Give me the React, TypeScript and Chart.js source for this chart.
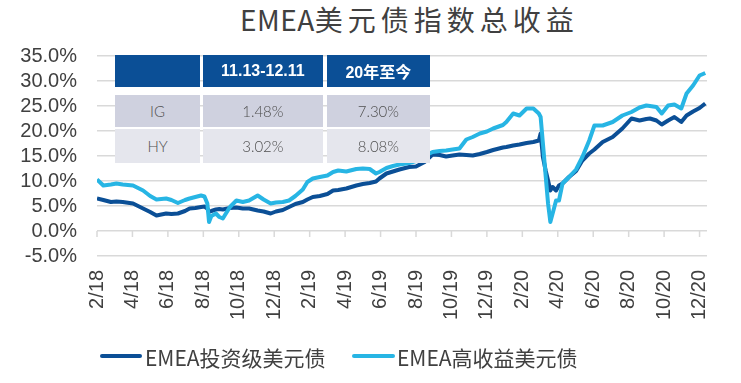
import React, { useEffect, useRef } from "react";
import { Chart, registerables } from "chart.js";

Chart.register(...registerables);

const titleLatin = "EMEA";
const titleCjk = "美元债指数总收益";

const dates = [
  "2018-02-01", "2018-02-11", "2018-02-23", "2018-03-04", "2018-03-15", "2018-04-02", "2018-04-19",
  "2018-05-01", "2018-05-12", "2018-05-29", "2018-06-07", "2018-06-18", "2018-06-30", "2018-07-08",
  "2018-07-18", "2018-07-28", "2018-08-03", "2018-08-08", "2018-08-11", "2018-08-15", "2018-08-23",
  "2018-08-29", "2018-09-04", "2018-09-16", "2018-09-27", "2018-10-08", "2018-10-19", "2018-11-03",
  "2018-11-13", "2018-11-25", "2018-12-04", "2018-12-16", "2018-12-27", "2019-01-07", "2019-01-20",
  "2019-01-28", "2019-02-06", "2019-02-17", "2019-03-01", "2019-03-11", "2019-03-20", "2019-04-03",
  "2019-04-20", "2019-05-01", "2019-05-13", "2019-05-24", "2019-05-30", "2019-06-11", "2019-06-22",
  "2019-07-03", "2019-07-20", "2019-08-01", "2019-08-16", "2019-08-30", "2019-09-11", "2019-09-22",
  "2019-10-03", "2019-10-15", "2019-10-27", "2019-11-07", "2019-11-19", "2019-12-01", "2019-12-12",
  "2019-12-29", "2020-01-04", "2020-01-16", "2020-01-27", "2020-02-08", "2020-02-19", "2020-02-28",
  "2020-03-02", "2020-03-06", "2020-03-11", "2020-03-15", "2020-03-19", "2020-03-23", "2020-03-29",
  "2020-04-03", "2020-04-09", "2020-04-20", "2020-05-02", "2020-05-13", "2020-05-25", "2020-06-03",
  "2020-06-17", "2020-07-04", "2020-07-21", "2020-08-06", "2020-08-20", "2020-09-01", "2020-09-07",
  "2020-09-18", "2020-09-27", "2020-10-08", "2020-10-19", "2020-10-31", "2020-11-09", "2020-11-20",
  "2020-12-01", "2020-12-11",
];

const igValues = [
  6.5, 6.2, 5.8, 5.9, 5.8, 5.5, 4.5,
  3.8, 3.1, 3.5, 3.4, 3.5, 4.0, 4.5,
  4.6, 4.8, 4.9, 4.5, 3.8, 4.0, 4.3,
  4.4, 4.3, 4.6, 4.7, 4.5, 4.5, 4.1,
  3.9, 3.5, 3.9, 4.2, 4.8, 5.4, 5.8,
  6.3, 6.8, 7.0, 7.4, 8.1, 8.2, 8.5,
  9.1, 9.4, 9.6, 9.9, 10.5, 11.5, 11.9,
  12.3, 12.8, 12.9, 13.8, 15.3, 15.2, 14.9,
  15.1, 15.3, 15.2, 15.1, 15.4, 15.8, 16.2,
  16.7, 16.8, 17.1, 17.3, 17.6, 17.8, 18.1,
  19.5, 14.8, 12.0, 10.1, 8.1, 8.8, 8.1,
  9.1, 9.5, 10.8, 12.0, 14.1, 15.5, 16.3,
  17.8, 18.8, 20.5, 22.5, 22.1, 22.4, 22.5,
  22.1, 21.3, 22.1, 22.8, 21.8, 23.1, 23.9,
  24.6, 25.5,
];

const hyValues = [
  10.3, 9.1, 9.3, 9.5, 9.3, 9.1, 8.1,
  7.0, 6.3, 6.5, 6.2, 5.6, 6.2, 6.5,
  6.8, 7.1, 6.9, 5.5, 1.8, 3.0, 3.5,
  2.8, 2.5, 4.8, 6.1, 5.8, 6.1, 7.1,
  6.3, 5.5, 5.7, 5.8, 6.1, 7.0, 8.3,
  9.8, 10.5, 10.8, 11.1, 11.8, 12.1, 11.9,
  12.4, 12.5, 12.4, 11.5, 11.8, 12.6, 13.0,
  13.3, 13.6, 14.0, 15.0, 15.8, 16.0, 16.1,
  16.3, 16.5, 18.3, 18.8, 19.5, 19.9, 20.5,
  21.2, 21.8, 23.5, 23.1, 24.5, 24.5, 23.5,
  22.8, 17.5, 10.8, 5.5, 1.8, 3.5, 6.1,
  6.1, 9.5, 10.8, 12.3, 14.8, 18.1, 21.1,
  21.1, 21.8, 23.1, 23.8, 24.7, 25.1, 25.0,
  24.8, 23.5, 25.1, 25.3, 24.5, 27.5, 29.1,
  31.1, 31.6,
];

const seriesNames = ["EMEA投资级美元债", "EMEA高收益美元债"];
const seriesColors = ["#0B4F96", "#27B5E4"];

const tickLabels = [
  "2/18", "4/18", "6/18", "8/18", "10/18", "12/18",
  "2/19", "4/19", "6/19", "8/19", "10/19", "12/19",
  "2/20", "4/20", "6/20", "8/20", "10/20", "12/20",
];

const tableHeader = ["", "11.13-12.11", "20年至今"];
const tableRowLabels = ["IG", "HY"];
const tablePeriod = ["1.48%", "3.02%"];
const tableYtd = ["7.30%", "8.08%"];

const Y_MIN = -5;
const Y_MAX = 35;
const Y_STEP = 5;

function monthIndex(d: string): number {
  const [y, m, day] = d.split("-").map(Number);
  const dim = new Date(y, m, 0).getDate();
  return (y - 2018) * 12 + (m - 2) + (day - 1) / dim;
}

const zeroTickPlugin = {
  id: "zeroTicks",
  beforeDatasetsDraw(chart: any) {
    const xs = chart.scales.x;
    const ys = chart.scales.y;
    const y0 = ys.getPixelForValue(0);
    const ctx = chart.ctx;
    ctx.save();
    ctx.strokeStyle = "#d9d9d9";
    ctx.lineWidth = 1.5;
    ctx.beginPath();
    xs.ticks.forEach((t: any) => {
      const x = xs.getPixelForValue(t.value);
      ctx.moveTo(x, y0);
      ctx.lineTo(x, y0 + 6);
    });
    ctx.stroke();
    ctx.restore();
  },
};

function ChartCanvas() {
  const ref = useRef<HTMLCanvasElement | null>(null);
  useEffect(() => {
    if (!ref.current) return;
    const xVals = dates.map(monthIndex);
    const chart = new Chart(ref.current, {
      type: "line",
      data: {
        datasets: [
          {
            label: seriesNames[0],
            data: xVals.map((x, i) => ({ x, y: igValues[i] })),
            borderColor: seriesColors[0],
            backgroundColor: seriesColors[0],
            borderWidth: 4,
            pointRadius: 0,
            tension: 0,
            borderJoinStyle: "round",
            order: 1,
          },
          {
            label: seriesNames[1],
            data: xVals.map((x, i) => ({ x, y: hyValues[i] })),
            borderColor: seriesColors[1],
            backgroundColor: seriesColors[1],
            borderWidth: 4,
            pointRadius: 0,
            tension: 0,
            borderJoinStyle: "round",
            order: 0,
          },
        ],
      },
      options: {
        animation: false,
        responsive: false,
        devicePixelRatio: 1,
        layout: { padding: { top: 56, left: 0, right: 34, bottom: 0 } },
        plugins: {
          legend: { display: false },
          title: { display: false },
          tooltip: { enabled: false },
        },
        scales: {
          x: {
            type: "linear",
            min: 0,
            max: 34.42,
            grid: { display: false, drawTicks: false },
            border: { display: false },
            afterBuildTicks: (scale: any) => {
              scale.ticks = tickLabels.map((_, i) => ({ value: i * 2 }));
            },
            afterFit: (scale: any) => {
              scale.height = 127;
            },
            ticks: {
              autoSkip: false,
              maxRotation: 90,
              minRotation: 90,
              padding: 14,
              color: "#404040",
              font: { family: "'Liberation Sans', Arial, sans-serif", size: 20 },
              callback: (_v: any, i: number) => tickLabels[i],
            },
          },
          y: {
            min: Y_MIN,
            max: Y_MAX,
            grid: { color: "#d9d9d9", lineWidth: 1.5, drawTicks: false },
            border: { display: false },
            afterFit: (scale: any) => {
              scale.width = 97;
            },
            ticks: {
              autoSkip: false,
              stepSize: Y_STEP,
              padding: 20,
              color: "#404040",
              font: { family: "'Liberation Sans', Arial, sans-serif", size: 20 },
              callback: (v: any) => Number(v).toFixed(1) + "%",
            },
          },
        },
      } as any,
      plugins: [zeroTickPlugin],
    });
    return () => chart.destroy();
  }, []);
  return <canvas ref={ref} width={741} height={383} style={{ position: "absolute", left: 0, top: 0 }} />;
}

const cjkFont = "'Noto Sans CJK SC', 'Noto Sans', sans-serif";

function DataTable() {
  const colX = [115, 202.7, 326.7];
  const colW = [85, 120.3, 103.3];
  const rowY = [55, 95, 129.3];
  const rowH = [32.3, 31.7, 34];
  const rowBg = ["#0B4F96", "#CFD1DF", "#E5E6ED"];
  const rows = [
    tableHeader,
    [tableRowLabels[0], tablePeriod[0], tableYtd[0]],
    [tableRowLabels[1], tablePeriod[1], tableYtd[1]],
  ];
  const cells: any[] = [];
  rows.forEach((r, ri) => {
    r.forEach((txt, ci) => {
      cells.push(
        <div
          key={ri + "-" + ci}
          style={{
            position: "absolute",
            left: colX[ci],
            top: rowY[ri],
            width: colW[ci],
            height: rowH[ri],
            background: rowBg[ri],
            display: "flex",
            alignItems: "center",
            justifyContent: "center",
            color: ri === 0 ? "#ffffff" : "#505050",
            fontWeight: ri === 0 ? 700 : 300,
            fontSize: ri === 0 ? 16 : 15,
            fontFamily:
              ri === 0
                ? "'Liberation Sans', Arial, " + cjkFont
                : "Lato, 'Liberation Sans', Arial, sans-serif",
          }}
        >
          {txt}
        </div>
      );
    });
  });
  return <>{cells}</>;
}

function Legend() {
  const items = [
    { lineX: 100, lineW: 42, textX: 145 },
    { lineX: 352, lineW: 43, textX: 397 },
  ];
  return (
    <>
      {items.map((it, i) => (
        <React.Fragment key={i}>
          <div
            style={{
              position: "absolute",
              left: it.lineX,
              top: 354,
              width: it.lineW,
              height: 4,
              borderRadius: 2,
              background: seriesColors[i],
            }}
          />
          <div
            style={{
              position: "absolute",
              left: it.textX,
              top: 342,
              height: 30,
              lineHeight: "30px",
              fontSize: 21,
              fontFamily: cjkFont,
              color: "#404040",
              whiteSpace: "nowrap",
            }}
          >
            {seriesNames[i]}
          </div>
        </React.Fragment>
      ))}
    </>
  );
}

export default function App() {
  return (
    <div
      style={{
        position: "absolute",
        left: 0,
        top: 0,
        width: 741,
        height: 383,
        background: "#ffffff",
        overflow: "hidden",
      }}
    >
      <div
        style={{
          position: "absolute",
          left: 240,
          top: 0,
          height: 38,
          lineHeight: "38px",
          fontSize: 28,
          fontFamily: cjkFont,
          color: "#404040",
          whiteSpace: "nowrap",
        }}
      >
        <span style={{ letterSpacing: 0.5 }}>{titleLatin}</span>
        <span style={{ letterSpacing: 5 }}>{titleCjk}</span>
      </div>
      <ChartCanvas />
      <DataTable />
      <Legend />
    </div>
  );
}
